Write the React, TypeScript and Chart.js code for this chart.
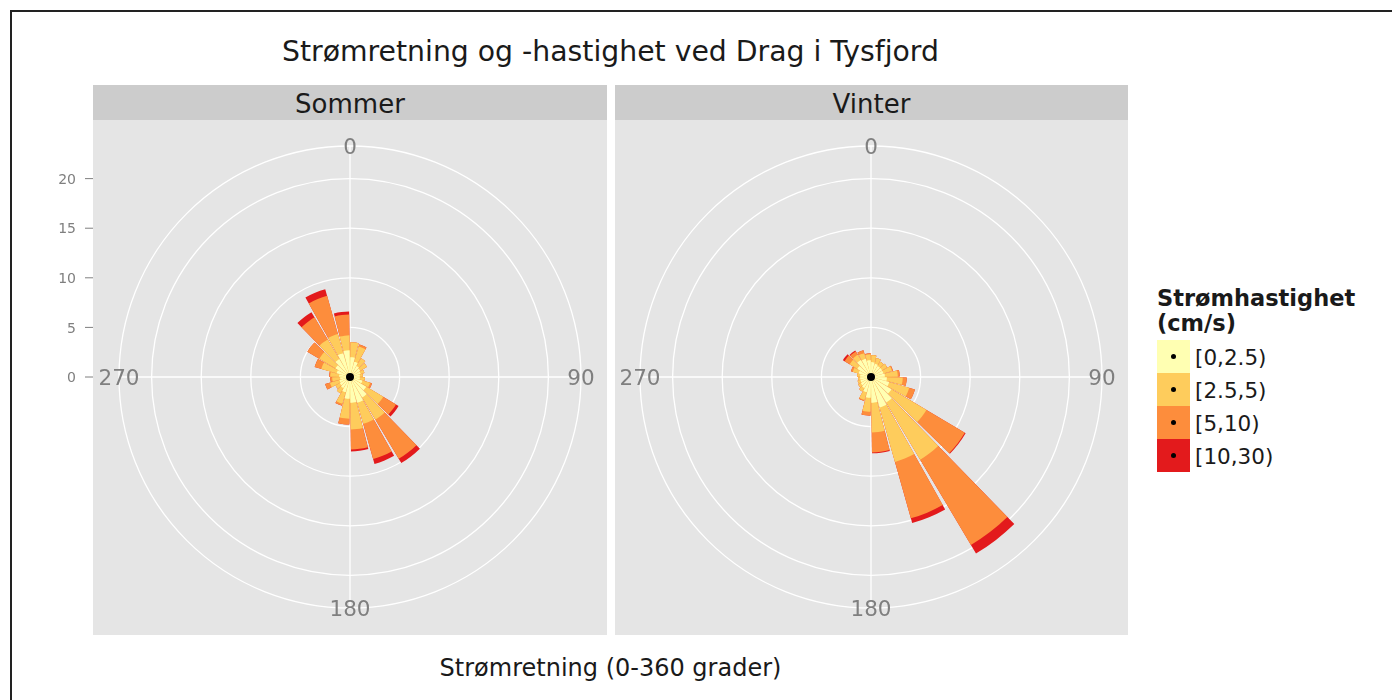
import React, { useEffect, useRef } from "react";
import { Chart, registerables } from "chart.js";

Chart.register(...registerables);

// ---------- DATA ----------
// direction bin centres (degrees, 15-degree bins)
const directionBins = [
  7.5, 22.5, 37.5, 52.5, 67.5, 82.5, 97.5, 112.5, 127.5, 142.5, 157.5, 172.5,
  187.5, 202.5, 217.5, 232.5, 247.5, 262.5, 277.5, 292.5, 307.5, 322.5, 337.5, 352.5,
];
const speedClasses = ["[0,2.5)", "[2.5,5)", "[5,10)", "[10,30)"];
const speedColors = ["#FFFFB2", "#FECC5C", "#FD8D3C", "#E31A1C"];

// Sommer (percent per direction bin, by speed class)
const sommer_0_2_5 = [2.0, 1.6, 1.3, 1.2, 1.1, 1.0, 1.0, 1.3, 1.9, 2.4, 2.7, 2.6, 2.2, 1.6, 1.3, 1.2, 1.1, 1.0, 1.1, 1.4, 1.7, 2.1, 2.5, 2.7];
const sommer_2_5_5 = [1.5, 1.6, 0.9, 0.8, 0.4, 0.3, 0.5, 0.8, 2.0, 2.6, 2.2, 2.7, 2.0, 1.2, 0.6, 0.5, 1.0, 0.8, 0.9, 1.6, 1.9, 2.3, 2.0, 1.5];
const sommer_5_10 = [0, 0.2, 0, 0, 0, 0, 0, 0.2, 1.5, 4.6, 3.7, 2.0, 0.6, 0.2, 0, 0, 0.5, 0.2, 0.1, 0.7, 1.4, 2.6, 4.0, 2.1];
const sommer_10_30 = [0, 0, 0, 0, 0, 0, 0, 0, 0.3, 0.5, 0.5, 0.2, 0, 0, 0, 0, 0, 0, 0, 0, 0, 0.6, 0.7, 0.3];

// Vinter
const vinter_0_2_5 = [1.5, 1.4, 1.3, 1.3, 1.3, 1.4, 1.6, 1.9, 2.4, 3.0, 3.2, 2.6, 2.1, 1.6, 1.3, 1.2, 1.1, 1.1, 1.1, 1.3, 1.6, 2.0, 1.9, 1.7];
const vinter_2_5_5 = [0.7, 0.6, 0.5, 0.6, 0.9, 1.3, 1.6, 2.1, 4.1, 6.7, 5.7, 3.0, 1.4, 0.8, 0.4, 0.3, 0.3, 0.2, 0.3, 0.6, 0.9, 0.6, 0.6, 0.6];
const vinter_5_10 = [0, 0, 0, 0, 0.1, 0.2, 0.4, 0.6, 4.5, 10.0, 5.9, 2.0, 0.4, 0.1, 0, 0, 0, 0, 0, 0.2, 0.6, 0.4, 0.3, 0.1];
const vinter_10_30 = [0, 0, 0, 0, 0, 0, 0, 0, 0.1, 1.0, 0.5, 0.1, 0, 0, 0, 0, 0, 0, 0, 0, 0.2, 0.1, 0, 0];

const radialTicks = [0, 5, 10, 15, 20];
const angleTicks = [0, 90, 180, 270];
const angleTickLabels = ["0", "90", "180", "270"];

const sommerLayers = [sommer_0_2_5, sommer_2_5_5, sommer_5_10, sommer_10_30];
const vinterLayers = [vinter_0_2_5, vinter_2_5_5, vinter_5_10, vinter_10_30];

// ---------- DERIVED ----------
const BIN_WIDTH = 15;
const BAR_FRACTION = 0.9;
const totals = (layers: number[][]) =>
  layers[0].map((_, i) => layers.reduce((s, l) => s + l[i], 0));
const R_MAX = Math.max(...totals(sommerLayers), ...totals(vinterLayers));
const SCALE_MAX = (R_MAX * 0.45) / 0.4; // outer ring like ggplot coord_polar

const FONT = '"DejaVu Sans", "Liberation Sans", sans-serif';
const PANEL_BG = "#E5E5E5";
const STRIP_BG = "#CCCCCC";
const AXIS_GREY = "#7F7F7F";

function buildDatasets(layers: number[][]) {
  return layers.map((_, k) => {
    const data: number[] = [];
    directionBins.forEach((_, i) => {
      let cum = 0;
      for (let j = 0; j <= k; j++) cum += layers[j][i];
      data.push(cum, 0); // bar then gap between bars
    });
    return {
      label: speedClasses[k],
      data,
      backgroundColor: speedColors[k],
      borderWidth: 0,
      angle: (ctx: any) =>
        ctx.dataIndex % 2 === 0
          ? BIN_WIDTH * BAR_FRACTION
          : BIN_WIDTH * (1 - BAR_FRACTION),
    };
  });
}

const labels = directionBins.flatMap((d) => [String(d), ""]);

function makeDecor(showYAxis: boolean, panelLeft: number) {
  return {
    id: "polarDecor",
    beforeDatasetsDraw(chart: any) {
      const s = chart.scales.r;
      const ctx = chart.ctx;
      ctx.save();
      ctx.strokeStyle = "#FFFFFF";
      ctx.lineWidth = 1.3;
      angleTicks.forEach((a) => {
        const rad = (a * Math.PI) / 180;
        const R = s.getDistanceFromCenterForValue(s.max);
        ctx.beginPath();
        ctx.moveTo(s.xCenter, s.yCenter);
        ctx.lineTo(s.xCenter + Math.sin(rad) * R, s.yCenter - Math.cos(rad) * R);
        ctx.stroke();
      });
      ctx.restore();
    },
    afterDatasetsDraw(chart: any) {
      const s = chart.scales.r;
      const ctx = chart.ctx;
      ctx.save();
      ctx.fillStyle = "#000000";
      ctx.beginPath();
      ctx.arc(s.xCenter, s.yCenter - s.getDistanceFromCenterForValue(0), 4, 0, Math.PI * 2);
      ctx.fill();
      ctx.restore();
    },
    afterDraw(chart: any) {
      const s = chart.scales.r;
      const ctx = chart.ctx;
      ctx.save();
      // angle labels
      const f = 21.5;
      ctx.font = `${f}px ${FONT}`;
      ctx.fillStyle = AXIS_GREY;
      ctx.textAlign = "center";
      ctx.textBaseline = "alphabetic";
      const R = s.getDistanceFromCenterForValue(s.max);
      angleTicks.forEach((a, i) => {
        const rad = (a * Math.PI) / 180;
        const x = s.xCenter + Math.sin(rad) * R;
        const y = s.yCenter - Math.cos(rad) * R;
        ctx.fillText(angleTickLabels[i], x, y + 0.365 * f);
      });
      // radial axis on the left
      if (showYAxis) {
        const fy = 14;
        ctx.font = `${fy}px ${FONT}`;
        ctx.textAlign = "right";
        ctx.strokeStyle = AXIS_GREY;
        ctx.lineWidth = 1;
        radialTicks.forEach((v) => {
          const y = s.yCenter - s.getDistanceFromCenterForValue(v);
          ctx.beginPath();
          ctx.moveTo(panelLeft - 8, y);
          ctx.lineTo(panelLeft, y);
          ctx.stroke();
          ctx.fillText(String(v), panelLeft - 17, y + 0.365 * fy);
        });
      }
      ctx.restore();
    },
  };
}

type PanelProps = {
  layers: number[][];
  left: number;
  width: number;
  pad: { left: number; right: number; top: number; bottom: number };
  showYAxis: boolean;
  panelLeft: number;
};

function RosePanel({ layers, left, width, pad, showYAxis, panelLeft }: PanelProps) {
  const ref = useRef<HTMLCanvasElement>(null);
  useEffect(() => {
    if (!ref.current) return;
    const chart = new Chart(ref.current, {
      type: "polarArea",
      data: { labels, datasets: buildDatasets(layers) as any },
      options: {
        responsive: false,
        animation: false,
        events: [],
        layout: { padding: pad },
        plugins: { legend: { display: false }, tooltip: { enabled: false } },
        scales: {
          r: {
            type: "radialLinear",
            min: 0,
            max: SCALE_MAX,
            startAngle: directionBins[0] - (BIN_WIDTH * BAR_FRACTION) / 2,
            ticks: { display: false },
            grid: { color: "#FFFFFF", lineWidth: 1.3, circular: true },
            angleLines: { display: false },
            pointLabels: { display: false },
            afterBuildTicks: (scale: any) => {
              scale.ticks = [...radialTicks, SCALE_MAX].map((v) => ({ value: v }));
            },
          } as any,
        },
      },
      plugins: [makeDecor(showYAxis, panelLeft)],
    });
    return () => chart.destroy();
  }, []);
  return (
    <canvas
      ref={ref}
      width={width}
      height={515}
      style={{ position: "absolute", left, top: 120, width, height: 515, display: "block" }}
    />
  );
}

export default function App() {
  const panels = [
    { name: "Sommer", x: 93, w: 514 },
    { name: "Vinter", x: 615, w: 513 },
  ];
  return (
    <div
      style={{
        position: "absolute",
        left: 0,
        top: 0,
        width: 1392,
        height: 700,
        overflow: "hidden",
        background: "#FFFFFF",
        fontFamily: FONT,
        color: "#1A1A1A",
      }}
    >
      <div
        style={{
          position: "absolute",
          left: 10,
          top: 10,
          width: 1500,
          height: 900,
          border: "2px solid #222222",
        }}
      />
      <div
        style={{
          position: "absolute",
          left: 93,
          width: 1035,
          top: 35,
          fontSize: 28.3,
          lineHeight: "34px",
          textAlign: "center",
          whiteSpace: "nowrap",
        }}
      >
        Strømretning og -hastighet ved Drag i Tysfjord
      </div>
      {panels.map((p) => (
        <React.Fragment key={p.name}>
          <div
            style={{ position: "absolute", left: p.x, top: 85, width: p.w, height: 35, background: STRIP_BG }}
          />
          <div
            style={{
              position: "absolute",
              left: p.x,
              top: 87,
              width: p.w,
              fontSize: 26,
              lineHeight: "35px",
              textAlign: "center",
            }}
          >
            {p.name}
          </div>
          <div
            style={{ position: "absolute", left: p.x, top: 120, width: p.w, height: 515, background: PANEL_BG }}
          />
        </React.Fragment>
      ))}
      <RosePanel
        layers={sommerLayers}
        left={40}
        width={567}
        pad={{ left: 79, right: 26, top: 26, bottom: 27 }}
        showYAxis={true}
        panelLeft={53}
      />
      <RosePanel
        layers={vinterLayers}
        left={615}
        width={513}
        pad={{ left: 25, right: 26, top: 26, bottom: 27 }}
        showYAxis={false}
        panelLeft={0}
      />
      <div
        style={{
          position: "absolute",
          left: 93,
          width: 1035,
          top: 652.7,
          fontSize: 24,
          lineHeight: "30px",
          textAlign: "center",
          whiteSpace: "nowrap",
        }}
      >
        Strømretning (0-360 grader)
      </div>
      {/* legend */}
      <div
        style={{
          position: "absolute",
          left: 1157,
          top: 285.5,
          fontSize: 22.5,
          lineHeight: "25.5px",
          fontWeight: "bold",
          whiteSpace: "nowrap",
        }}
      >
        Strømhastighet
        <br />
        (cm/s)
      </div>
      {speedClasses.map((c, k) => (
        <React.Fragment key={c}>
          <div
            style={{
              position: "absolute",
              left: 1157,
              top: 340 + 33 * k,
              width: 33,
              height: 33,
              background: speedColors[k],
            }}
          />
          <div
            style={{
              position: "absolute",
              left: 1157 + 16.5 - 2.7,
              top: 340 + 33 * k + 16.5 - 2.7,
              width: 5.4,
              height: 5.4,
              borderRadius: "50%",
              background: "#000000",
            }}
          />
          <div
            style={{
              position: "absolute",
              left: 1195,
              top: 341 + 33 * k,
              fontSize: 21.5,
              lineHeight: "33px",
              whiteSpace: "nowrap",
              color: "#1A1A1A",
            }}
          >
            {c}
          </div>
        </React.Fragment>
      ))}
    </div>
  );
}
